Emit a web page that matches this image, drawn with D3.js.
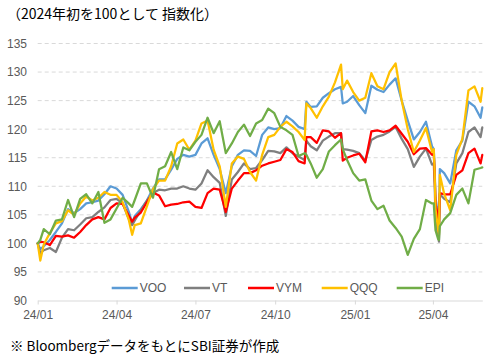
<!DOCTYPE html>
<html><head><meta charset="utf-8">
<script src="https://cdn.jsdelivr.net/npm/d3@7"></script>
<style>
body{margin:0;background:#fff;}
svg{display:block;}
</style></head>
<body>
<svg id="c" width="497" height="359"></svg>
<script>
const dates = ["2024-01-01","2024-01-04","2024-01-08","2024-01-15","2024-01-22","2024-01-29","2024-02-05","2024-02-12","2024-02-19","2024-02-26","2024-03-04","2024-03-11","2024-03-18","2024-03-25","2024-04-01","2024-04-08","2024-04-15","2024-04-19","2024-04-22","2024-04-29","2024-05-06","2024-05-13","2024-05-20","2024-05-27","2024-06-03","2024-06-10","2024-06-17","2024-06-24","2024-07-01","2024-07-08","2024-07-15","2024-07-22","2024-07-29","2024-08-05","2024-08-12","2024-08-19","2024-08-26","2024-09-02","2024-09-09","2024-09-16","2024-09-23","2024-09-30","2024-10-07","2024-10-14","2024-10-21","2024-10-28","2024-11-04","2024-11-06","2024-11-11","2024-11-18","2024-11-25","2024-12-02","2024-12-09","2024-12-16","2024-12-18","2024-12-23","2024-12-30","2025-01-06","2025-01-13","2025-01-20","2025-01-27","2025-02-03","2025-02-10","2025-02-17","2025-02-24","2025-03-03","2025-03-10","2025-03-17","2025-03-24","2025-03-31","2025-04-02","2025-04-03","2025-04-04","2025-04-07","2025-04-08","2025-04-09","2025-04-14","2025-04-21","2025-04-28","2025-05-05","2025-05-12","2025-05-19","2025-05-26","2025-05-28"];

const VOO = [100,99,99.5,100.6,102,103.5, 106,105.3,106,107, 107.2,107.5,108.6,110, 109.6,108.5,105.6,103.6,104.8,106, 107.5,109.6,111.2,111.2, 112.9,114.8,115.5,115.2, 115.5,117.5,118.4,115.5,113, 108.8,113.5,115.5,116.3, 116.2,115.3,119,120.3,120, 120.2,122.3,121.5,120.4, 120,124.8,123.9,124,125.5, 126.3,127,127.4,124.5,124.8,125.8, 124.2,122.8,127.6,126.9, 126.5,127.8,128.9,125, 121.5,118.2,119.5,121.3,117, 116.5,113,108,105,104.5,113,112.3,110.5,116.3, 118,124.8,124,122,123.8];
const VT = [100,98.3,98.8,99.2,98.5,101, 102.5,102.3,103.3,104.4, 104.6,105.5,106.3,107.6, 107.8,107,104.3,103.2,104,105.8, 107.5,108.8,109.4,109.3, 109.6,109.6,110,109.6, 109.4,110.5,112.8,111.6,110.6, 104.8,111.2,112.5,114, 113,113.2,114.6,116.2,116.1, 115.8,116.8,115.8,115.2, 114.6,118,117,116.3,118, 118.7,119.3,119.3,116.5,116.4,116.2, 115.8,114.5,118.1,118.7, 119,119.6,120.4,118.3, 116.5,113.4,115.2,116.6,113.8, 114,110.5,104.5,101.2,100.3,108.6,107.8,107.2,114, 115.8,119.5,120.3,118.6,120.3];
const VYM = [100,100.3,100.2,99.7,101.3,101.2, 101.4,101,102,103.2, 104.2,104.6,104.2,106.2, 107,106.9,104.9,103.8,104.5,105.4, 107.2,108.9,108.4,106.5, 106.8,106.9,107.2,107.3, 106.4,106.2,108.8,109.6,109.4, 105.5,109.6,111,112.3, 112.3,112.8,113.6,114,114.3, 114.6,116.5,116,114.4, 114,118.6,118.6,117.6,119.8, 119.6,118.5,119.3,114.5,115,115.4, 115.7,114.2,119.6,119.8, 119.5,119.8,120.6,119.2, 117.8,115.6,116.6,116.7,115.5, 115.7,112.5,107,104.5,103.3,108.8,108.6,108.6,112, 112.8,115.8,116.6,114,115.5];
const QQQ = [100,97,99.8,101.8,103.5,103.9, 105.8,105,107,108.2, 107.5,108,109,108.5, 108.5,107.2,104.2,101.5,103.2,103.5, 106.5,109.5,111,111, 113.5,117.5,118.2,116.4, 118,121,121.5,116.4,113.5, 106.4,114,115.2,114.8, 112.5,111,115.5,118.6,119, 120.4,121.3,120.5,119.5, 118.1,124.5,123.7,122,124, 125.7,128.2,131.3,127,128.5,126.5, 125,125.5,129.8,127.5, 127,130,131.5,125, 120,116,118,120.2,116, 116.5,112.5,106,102.5,101.5,112,108.7,105.8,115.5, 118.3,126.8,127.5,124.8,127.2];
const EPI = [100,100.6,102.5,101.6,104,104.2, 107.6,104.6,107.8,108.6, 107,109,103.6,104.2, 106.1,108,107,106.4,107.6,110.5, 110.5,108,113,113.5, 116,113,116.8,116.3, 117.8,119,122,119.3,121.4, 115.8,117.5,119.5,120.8, 118.8,121,121.6,123.6,122.8, 120.4,119.8,119,115.3, 115.8,115.5,114,111.5,113, 116.1,117.2,118.2,116.5,114.6,112.3, 111,111.2,107.5,106, 106.6,104,102.7,101.2, 98,100.8,102.5,107.6,107, 107,104.5,102.3,100.8,100.6,103,104.2,105.3,108.5, 109.6,107,112.9,113.2,113.3];

const seriesNames = ["VOO","VT","VYM","QQQ","EPI"];
const seriesColors = ["#5B9BD5","#7F7F7F","#FF0000","#FFC000","#70AD47"];
const seriesValues = [VOO,VT,VYM,QQQ,EPI];
const yTicks = [90,95,100,105,110,115,120,125,130,135];
const xTickDates = ["2024-01-01","2024-04-01","2024-07-01","2024-10-01","2025-01-01","2025-04-01"];
const xTickLabels = ["24/01","24/04","24/07","24/10","25/01","25/04"];
const titleText = "（2024年初を100として 指数化）";
const footText = "※ BloombergデータをもとにSBI証券が作成";

const parse = d3.timeParse("%Y-%m-%d");
const D = dates.map(parse);
const svg = d3.select("#c");
const x = d3.scaleTime().domain([parse("2024-01-01"), parse("2025-05-28")]).range([37.7, 482.3]);
const y = d3.scaleLinear().domain([90,135]).range([300.5, 43.5]);
const lab = "'Liberation Sans', Arial, sans-serif";
const jp = "'Noto Sans CJK JP', sans-serif";

// gridlines
svg.append("g").selectAll("line").data(yTicks.filter(t=>t>90)).join("line")
  .attr("x1", 37.7).attr("x2", 482.3)
  .attr("y1", d=>y(d)).attr("y2", d=>y(d))
  .attr("stroke", "#D9D9D9").attr("stroke-width", 1).attr("stroke-dasharray", "4,3");

// y axis labels
const yAxis = d3.axisLeft(y).tickValues(yTicks).tickSize(0).tickPadding(0);
const gy = svg.append("g").attr("transform", "translate(27,0)").call(yAxis);
gy.select(".domain").remove();
gy.selectAll("text").attr("font-family", lab).attr("font-size", 12).attr("fill", "#595959");

// x axis
const xAxis = d3.axisBottom(x).tickValues(xTickDates.map(parse)).tickFormat((d,i)=>xTickLabels[i]).tickSize(4).tickSizeOuter(0).tickPadding(6);
const gx = svg.append("g").attr("transform", "translate(0,300.5)").call(xAxis);
gx.select(".domain").attr("stroke", "#D9D9D9");
gx.selectAll(".tick line").attr("stroke", "#D9D9D9");
gx.selectAll("text").attr("font-family", lab).attr("font-size", 12).attr("fill", "#595959");

// lines
const line = d3.line().x((d,i)=>x(D[i])).y(d=>y(d));
seriesValues.forEach((vals, si) => {
  svg.append("path").datum(vals).attr("d", line)
    .attr("fill", "none").attr("stroke", seriesColors[si])
    .attr("stroke-width", 2.25).attr("stroke-linejoin", "round").attr("stroke-linecap", "round");
});

// legend
const legX = [111.7, 184, 248, 321.7, 396.7];
const lg = svg.append("g");
seriesNames.forEach((n, i) => {
  lg.append("line").attr("x1", legX[i]).attr("x2", legX[i]+26).attr("y1", 288).attr("y2", 288)
    .attr("stroke", seriesColors[i]).attr("stroke-width", 2.5);
  lg.append("text").attr("x", legX[i]+28).attr("y", 288).attr("dy", "0.35em")
    .attr("font-family", lab).attr("font-size", 12).attr("fill", "#595959").text(n);
});

// title & footer
svg.append("text").attr("x", 7).attr("y", 19).attr("font-family", jp).attr("font-size", 14).attr("fill", "#000").text(titleText);
svg.append("text").attr("x", 10).attr("y", 351).attr("font-family", jp).attr("font-size", 13.5).attr("fill", "#000").text(footText);
</script>
</body></html>
